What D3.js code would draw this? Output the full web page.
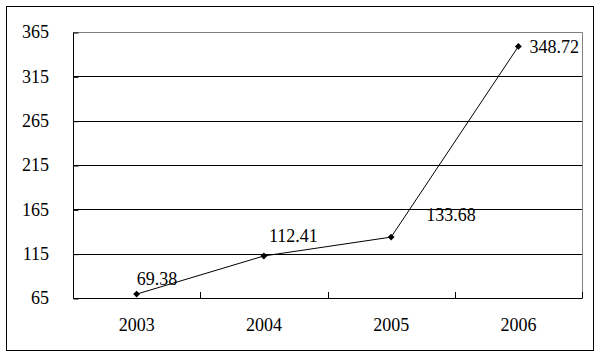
<!DOCTYPE html>
<html><head><meta charset="utf-8">
<script src="https://cdn.jsdelivr.net/npm/d3@7"></script>
<style>body{margin:0;background:#fff}svg{display:block}</style>
</head><body>
<script>
const years = ["2003","2004","2005","2006"];
const values = [69.38, 112.41, 133.68, 348.72];
const labels = ["69.38","112.41","133.68","348.72"];
const yTicks = [65,115,165,215,265,315,365];

const W=602,H=357;
const svg=d3.select("body").append("svg").attr("width",W).attr("height",H);
const font="'Liberation Serif','DejaVu Serif',serif";
svg.append("rect").attr("x",6.5).attr("y",6.5).attr("width",587).attr("height",344)
  .attr("fill","#fff").attr("stroke","#000").attr("stroke-width",1);

const L=73,R=582,T=32,B=298;
const x=d3.scaleBand().domain(years).range([L,R]).padding(0);
const y=d3.scaleLinear().domain([65,365]).range([B,T]);

// plot border (grey top/right)
svg.append("path").attr("d",`M${L+0.5},${T+0.5}H${R+0.5}V${B+0.5}`)
  .attr("fill","none").attr("stroke","#808080");
// gridlines
svg.append("g").selectAll("line").data(yTicks.filter(v=>v>65&&v<365)).join("line")
  .attr("x1",L).attr("x2",R).attr("y1",d=>Math.round(y(d))+0.5).attr("y2",d=>Math.round(y(d))+0.5)
  .attr("stroke","#000");

// y axis
const ya=svg.append("g").attr("transform",`translate(${L+0.5},0.5)`)
  .call(d3.axisRight(y).tickValues(yTicks).tickSize(5).tickFormat(""));
ya.select(".domain").attr("d",`M0,${T}V${B}`).attr("stroke","#000");
ya.selectAll(".tick line").attr("stroke","#000");
svg.append("g").selectAll("text").data(yTicks).join("text")
  .attr("x",49).attr("y",d=>y(d)).attr("dy","0.35em").attr("text-anchor","end")
  .attr("font-family",font).attr("font-size",18).text(d=>d);

// x axis
const xa=svg.append("g").attr("transform",`translate(0.5,${B+0.5})`)
  .call(d3.axisTop(x).tickSize(0).tickFormat(""));
xa.select(".domain").attr("d",`M${L},0H${R}`).attr("stroke","#000");
xa.selectAll(".tick").remove();
svg.append("g").selectAll("line").data(years.slice(1)).join("line")
  .attr("x1",d=>Math.round(x(d))+0.5).attr("x2",d=>Math.round(x(d))+0.5)
  .attr("y1",B).attr("y2",B-6).attr("stroke","#000");
svg.append("line").attr("x1",R+0.5).attr("x2",R+0.5).attr("y1",B).attr("y2",B-6).attr("stroke","#000");
svg.append("g").selectAll("text").data(years).join("text")
  .attr("x",d=>x(d)+x.bandwidth()/2).attr("y",331).attr("text-anchor","middle")
  .attr("font-family",font).attr("font-size",18).text(d=>d);

// line
const cx=(d,i)=>x(years[i])+x.bandwidth()/2;
svg.append("path").datum(values)
  .attr("d",d3.line().x((d,i)=>cx(d,i)).y(d=>y(d)))
  .attr("fill","none").attr("stroke","#000").attr("stroke-width",1);
svg.append("g").selectAll("path").data(values).join("path")
  .attr("transform",(d,i)=>`translate(${cx(d,i)},${y(d)})`)
  .attr("d",d3.symbol().type(d3.symbolDiamond2 || d3.symbolDiamond).size(30))
  .attr("fill","#000");

// value labels
const offs=[[0,-9],[5,-14],[35,-16],[11,7]];
svg.append("g").selectAll("text").data(values).join("text")
  .attr("x",(d,i)=>cx(d,i)+offs[i][0]).attr("y",(d,i)=>y(d)+offs[i][1])
  .attr("font-family",font).attr("font-size",18).text((d,i)=>labels[i]);
</script>
</body></html>
